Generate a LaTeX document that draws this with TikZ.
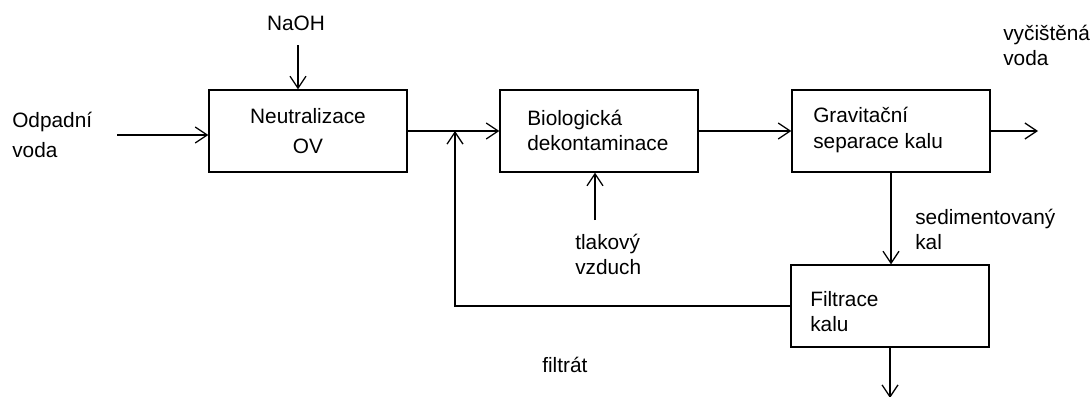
\documentclass[tikz,border=0pt]{standalone}
\usepackage{fontspec}
\setmainfont{Liberation Sans}
\usetikzlibrary{arrows.meta}
\usetikzlibrary{positioning}

\tikzset{
	blok/.style={draw, line width=0.9pt, minimum width=4.95cm, minimum height=2.05cm, inner sep=0pt},
	popis/.style={anchor=west, align=left, inner sep=0pt},
	sipka/.style={line width=0.9pt, -{Straight Barb[length=3mm,width=4mm]}}
}

\begin{document}
\begin{tikzpicture}[x=0.025cm, y=-0.025cm, font=\fontsize{14.8}{17.8}\selectfont]
			\useasboundingbox (0,0) rectangle (1092,396);
			\node [blok, align=center, font=\fontsize{14.8}{21.3}\selectfont] (neut) at (308,131) {Neutralizace\\OV};
			\node [blok] (bio) at (599,131) {};
			\node [blok] (grav) at (891,131) {};
			\node [blok] (filtr) at (890,306) {};
			\node [popis] (bio_t) at (527,130) {Biologická\\dekontaminace};
			\node [popis] (grav_t) at (813,130) {Gravitační\\separace kalu};
			\node [popis] (filtr_t) at (810,312) {Filtrace\\kalu};
			\node [popis, font=\fontsize{14.8}{21.3}\selectfont] (odpad) at (12,135) {Odpadní\\voda};
			\node [inner sep=0pt] (naoh) at (296,23) {NaOH};
			\node [popis] (vzduch) at (575,254) {tlakový\\vzduch};
			\node [popis] (sedim) at (915,229) {sedimentovaný\\kal};
			\node [popis] (ciste) at (1003,45) {vyčištěná\\voda};
			\node [popis] (filtrat) at (542,365) {filtrát};
			\coordinate (vstup) at (117,135);
			\coordinate (naoh_in) at (298,45);
			\coordinate (zpet) at (455,131);
			\coordinate (vzduch_in) at (595,220);
			\coordinate (vystup) at (1038,131);
			\coordinate (kal) at (890,398);
			\draw [sipka] (vstup) -- (vstup -| neut.west);
			\draw [sipka] (naoh_in) -- (naoh_in |- neut.north);
			\draw [sipka] (neut.east) -- (bio.west);
			\draw [sipka] (bio.east) -- (grav.west);
			\draw [sipka] (grav.east) -- (vystup);
			\draw [sipka] (vzduch_in) -- (vzduch_in |- bio.south);
			\draw [sipka] (grav.south) -- (grav.south |- filtr.north);
			\draw [sipka] (filtr.west) -| (zpet);
			\draw [sipka] (filtr.south) -- (kal);
	\end{tikzpicture}
\end{document}
